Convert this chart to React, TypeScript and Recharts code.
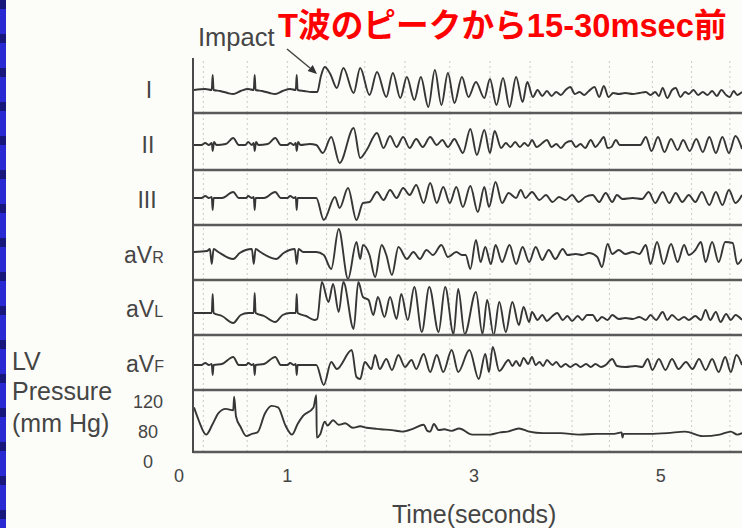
import { LineChart, Line, XAxis, YAxis, ReferenceLine } from "recharts";

type Pt = [number, number];

const T_MAX = 5.87;
const timeTicks = [0, 1, 3, 5];
const pressureTicks = [120, 80];
const gridTimes = [0.1, 0.57, 1.0, 1.42, 1.83, 2.26, 2.74, 3.17, 3.6, 4.05, 4.45, 4.91, 5.33, 5.74];

// [time (s), deflection]
const leadI: Pt[] = [
  [0, 0], [0.12, 1], [0.19, 0], [0.2, 15], [0.21, 0], [0.28, -1], [0.36, -3], [0.42, -4], [0.5, -1],
  [0.58, 1], [0.64, 0], [0.65, 15], [0.66, 0], [0.73, -1], [0.81, -3], [0.87, -4], [0.95, -1],
  [1.03, 1], [1.09, 0], [1.1, 15], [1.11, 0], [1.18, -1], [1.26, -2], [1.32, -2], [1.36, 14],
  [1.4, 23], [1.46, 16], [1.53, 2], [1.6, 22], [1.71, -3], [1.78, 22], [1.88, -5], [1.96, 18],
  [2.06, -7], [2.13, 17], [2.21, -8], [2.28, 13], [2.36, -10], [2.43, 13], [2.51, -17], [2.58, 20],
  [2.65, -15], [2.72, 17], [2.79, -13], [2.87, 13], [2.94, -7], [3.02, 8], [3.11, -8], [3.17, 11],
  [3.24, -15], [3.31, 12], [3.38, -17], [3.45, 13], [3.52, -12], [3.57, 8], [3.63, -7], [3.68, 0],
  [3.73, -6], [3.78, -1], [3.83, -6], [3.88, -2], [3.93, -5], [3.98, 0], [4.03, 3], [4.08, -4],
  [4.13, -2], [4.18, -5], [4.23, -1], [4.29, 3], [4.34, -7], [4.39, 4], [4.44, -7], [4.49, -3],
  [4.55, -4], [4.62, -3], [4.7, -4], [4.77, -3], [4.84, -2], [4.89, -5], [4.94, -2], [4.98, -6],
  [5.02, 2], [5.07, -8], [5.12, 0], [5.16, 2], [5.21, -7], [5.26, -2], [5.3, -4], [5.35, 0],
  [5.4, -5], [5.45, -2], [5.5, -5], [5.55, -1], [5.6, -6], [5.65, 0], [5.7, -5], [5.74, -7],
  [5.78, -1], [5.82, -5], [5.87, -2],
];

const leadII: Pt[] = [
  [0, 0], [0.08, 0], [0.12, 2], [0.16, 0], [0.19, 2], [0.2, -6], [0.215, 3], [0.24, 0], [0.34, 1],
  [0.42, 7], [0.48, 0], [0.55, 0], [0.58, 3], [0.62, 0], [0.64, 2], [0.65, -6], [0.665, 3], [0.69, 0],
  [0.79, 1], [0.87, 7], [0.93, 0], [1.0, 0], [1.03, 2], [1.07, 0], [1.09, 2], [1.1, -6], [1.115, 3],
  [1.14, 0], [1.24, 1], [1.31, 0], [1.38, -8], [1.47, 8], [1.56, -18], [1.71, 17], [1.78, -13],
  [1.85, -5], [1.96, 12], [2.03, -3], [2.1, 9], [2.17, -2], [2.24, 8], [2.31, -3], [2.38, 6],
  [2.45, -2], [2.53, 8], [2.6, 0], [2.66, 5], [2.72, -2], [2.79, 6], [2.83, 0], [2.88, -8],
  [2.96, 16], [3.03, -10], [3.11, 15], [3.17, -8], [3.22, 14], [3.29, -3], [3.34, 2], [3.39, -2],
  [3.44, 3], [3.49, -2], [3.54, 2], [3.58, -1], [3.62, 5], [3.67, -2], [3.72, 1], [3.78, 5],
  [3.83, -2], [3.88, 1], [3.93, -3], [3.98, 2], [4.04, 4], [4.09, -2], [4.14, 1], [4.19, -3],
  [4.25, 5], [4.3, -2], [4.34, 2], [4.39, 8], [4.43, -3], [4.47, -2], [4.52, 5], [4.56, 0],
  [4.65, 0], [4.78, 0], [4.84, 8], [4.9, -6], [4.97, 8], [5.04, -7], [5.11, 6], [5.18, -5],
  [5.24, 5], [5.31, -6], [5.38, 6], [5.45, -7], [5.52, 8], [5.59, -8], [5.66, 8], [5.73, -8],
  [5.8, 9], [5.87, -4],
];

const leadIII: Pt[] = [
  [0, 0], [0.08, 0], [0.12, 2], [0.16, 0], [0.19, 1], [0.2, -12], [0.21, 0], [0.3, 0], [0.42, 6],
  [0.48, 0], [0.56, 0], [0.58, 2], [0.62, 0], [0.64, 1], [0.65, -12], [0.66, 0], [0.75, 0],
  [0.87, 6], [0.93, 0], [1.0, 0], [1.03, 2], [1.07, 0], [1.09, 1], [1.1, -12], [1.11, 0], [1.2, 0],
  [1.31, 0], [1.39, -22], [1.51, 1], [1.56, -10], [1.65, 10], [1.74, -22], [1.81, -5], [1.88, -4],
  [1.96, 6], [2.03, -2], [2.1, 8], [2.17, 0], [2.24, 10], [2.31, 3], [2.38, 13], [2.46, -5],
  [2.53, 15], [2.6, -5], [2.67, 11], [2.74, -5], [2.81, 11], [2.88, -9], [2.96, 12], [3.04, -14],
  [3.11, 11], [3.16, -9], [3.23, 16], [3.3, -5], [3.37, 5], [3.45, 0], [3.5, 8], [3.55, 0],
  [3.62, 6], [3.7, -2], [3.77, 3], [3.84, -4], [3.91, 1], [3.98, -2], [4.05, 3], [4.12, -4],
  [4.19, 1], [4.27, 3], [4.34, -4], [4.41, 5], [4.48, -4], [4.53, 3], [4.59, -1], [4.7, 0],
  [4.8, -1], [4.87, 6], [4.94, -5], [5.02, 6], [5.09, -5], [5.16, 5], [5.23, -4], [5.3, 3],
  [5.37, -4], [5.44, 6], [5.52, -7], [5.59, 6], [5.66, -7], [5.73, 8], [5.8, -5], [5.87, 3],
];

const leadAVR: Pt[] = [
  [0, 0], [0.14, 1], [0.17, 3], [0.19, -12], [0.21, 3], [0.26, 0], [0.42, -7], [0.49, -1],
  [0.62, 3], [0.64, -12], [0.66, 3], [0.71, 0], [0.88, -7], [0.96, -1], [1.08, 3], [1.1, -12],
  [1.12, 3], [1.17, 0], [1.31, 0], [1.39, -3], [1.47, -17], [1.55, 23], [1.65, -27], [1.74, 10],
  [1.78, -7], [1.81, 7], [1.88, -3], [1.94, -25], [2.01, 7], [2.06, -3], [2.12, -23], [2.19, 5],
  [2.28, -7], [2.35, 0], [2.42, -7], [2.49, 2], [2.56, -3], [2.65, 7], [2.72, -5], [2.81, 0],
  [2.87, -3], [2.91, -3], [2.96, -17], [3.02, 12], [3.07, -10], [3.12, 5], [3.18, -12], [3.23, 7],
  [3.3, -10], [3.38, 7], [3.45, -12], [3.52, 5], [3.59, -10], [3.66, 5], [3.73, -8], [3.8, 2],
  [3.87, -7], [3.95, 3], [4.0, -3], [4.09, -2], [4.16, -3], [4.23, -1], [4.32, -5], [4.37, -15],
  [4.43, 8], [4.48, -2], [4.55, 2], [4.62, -2], [4.7, 0], [4.77, -2], [4.84, 7], [4.89, -12],
  [4.96, 10], [5.03, -12], [5.11, 8], [5.18, -10], [5.25, 7], [5.3, -3], [5.37, 2], [5.43, 10],
  [5.48, -10], [5.55, 10], [5.62, -10], [5.69, 10], [5.77, 9], [5.82, -12], [5.87, -7],
];

const leadAVL: Pt[] = [
  [0, 0], [0.19, 0], [0.2, 19], [0.21, 0], [0.3, -3], [0.42, -10], [0.5, -2], [0.58, 0], [0.64, 0],
  [0.65, 20], [0.66, 0], [0.75, -3], [0.87, -9], [0.95, -2], [1.03, 0], [1.09, 0], [1.1, 19],
  [1.11, 0], [1.2, -3], [1.29, -7], [1.32, -6], [1.37, 31], [1.44, 11], [1.49, 29], [1.55, 1],
  [1.6, 31], [1.71, -16], [1.76, 31], [1.81, 16], [1.87, 13], [1.92, -2], [1.97, 16], [2.04, -4],
  [2.1, 16], [2.17, -6], [2.22, 19], [2.29, -7], [2.36, 26], [2.44, -19], [2.52, 26], [2.62, -19],
  [2.69, 26], [2.78, -21], [2.83, 24], [2.9, -21], [3.02, 21], [3.09, -21], [3.14, 13], [3.21, -22],
  [3.27, 11], [3.34, -19], [3.41, 11], [3.48, -12], [3.53, 6], [3.59, -9], [3.62, 1], [3.68, -7],
  [3.73, -2], [3.78, -8], [3.84, -3], [3.89, 0], [3.95, -7], [4.0, -3], [4.05, -8], [4.11, -3],
  [4.16, -7], [4.21, -2], [4.27, -2], [4.32, -8], [4.37, -4], [4.43, -7], [4.48, -2], [4.55, -6],
  [4.62, -5], [4.7, -6], [4.77, -4], [4.84, -7], [4.89, -2], [4.95, -7], [5.02, 1], [5.07, -7],
  [5.12, -2], [5.19, -7], [5.25, -4], [5.3, -7], [5.37, -3], [5.43, -7], [5.48, 3], [5.53, -7],
  [5.59, 1], [5.64, -9], [5.7, -1], [5.75, -7], [5.8, -2], [5.87, -7],
];

const leadAVF: Pt[] = [
  [0, 0], [0.08, 0], [0.12, 2], [0.16, 0], [0.19, 1], [0.2, -10], [0.21, 0], [0.3, 1], [0.42, 8],
  [0.48, 0], [0.56, 0], [0.58, 2], [0.62, 0], [0.64, 1], [0.65, -10], [0.66, 0], [0.75, 1],
  [0.87, 8], [0.93, 0], [1.0, 0], [1.03, 2], [1.07, 0], [1.09, 1], [1.1, -10], [1.11, 0], [1.2, 0],
  [1.31, 0], [1.39, -20], [1.47, 3], [1.53, -4], [1.69, 15], [1.74, -12], [1.78, -14], [1.83, 3],
  [1.9, -4], [1.94, 10], [1.99, -4], [2.06, 6], [2.12, -5], [2.19, 10], [2.26, -2], [2.33, 5],
  [2.38, -4], [2.46, 11], [2.53, -7], [2.6, 10], [2.67, -7], [2.76, 15], [2.83, -7], [2.95, 15],
  [3.05, -14], [3.12, 11], [3.16, -7], [3.2, 18], [3.27, -6], [3.37, 5], [3.41, -1], [3.45, 4],
  [3.49, -1], [3.53, 7], [3.58, 1], [3.62, 8], [3.66, 0], [3.7, 3], [3.74, -1], [3.78, 5],
  [3.84, 0], [3.88, 3], [3.93, -2], [3.98, 1], [4.03, -2], [4.09, 1], [4.14, -2], [4.2, 1],
  [4.25, -2], [4.3, 1], [4.36, -2], [4.41, 0], [4.48, 6], [4.53, -1], [4.62, -2], [4.73, -1],
  [4.8, -2], [4.86, 6], [4.91, -5], [4.98, 6], [5.05, -5], [5.12, 6], [5.19, -4], [5.27, 3],
  [5.34, -4], [5.41, 6], [5.48, -5], [5.55, 6], [5.62, -7], [5.69, 8], [5.75, -7], [5.81, 10],
  [5.87, 0],
];

// LV pressure, mm Hg
const lvPressure: Pt[] = [
  [0, 112], [0.05, 95], [0.13, 76], [0.2, 90], [0.26, 104], [0.34, 110], [0.42, 108], [0.43, 126],
  [0.45, 100], [0.5, 86], [0.56, 74], [0.62, 77], [0.68, 79], [0.76, 104], [0.83, 114], [0.9, 112],
  [0.98, 88], [1.05, 76], [1.11, 90], [1.17, 101], [1.28, 112], [1.31, 128], [1.315, 72],
  [1.35, 76], [1.4, 93], [1.43, 88], [1.49, 95], [1.55, 89], [1.62, 91], [1.7, 85], [1.78, 87],
  [1.85, 85], [1.93, 84], [2.0, 83], [2.12, 82], [2.23, 80], [2.35, 84], [2.46, 89], [2.5, 81],
  [2.53, 80], [2.57, 90], [2.62, 82], [2.68, 83], [2.76, 81], [2.84, 84], [2.98, 76], [3.17, 76],
  [3.28, 79], [3.36, 80], [3.48, 84], [3.59, 80], [3.74, 78], [3.93, 78], [4.12, 76], [4.31, 77],
  [4.5, 77], [4.58, 79], [4.59, 72], [4.6, 77], [4.69, 77], [4.88, 77], [5.07, 78], [5.26, 80],
  [5.45, 74], [5.63, 76], [5.75, 80], [5.82, 76], [5.87, 78],
];

const rows = [
  { name: "I", pts: leadI, top: 60, bottom: 113, base: 90 },
  { name: "II", pts: leadII, top: 113, bottom: 170, base: 145 },
  { name: "III", pts: leadIII, top: 170, bottom: 225, base: 198 },
  { name: "aVR", pts: leadAVR, top: 225, bottom: 280, base: 252 },
  { name: "aVL", pts: leadAVL, top: 280, bottom: 335, base: 313 },
  { name: "aVF", pts: leadAVF, top: 335, bottom: 390, base: 365 },
];

const FONT = "'Liberation Sans', Arial, sans-serif";
const INK = "#363636";
const TXT = "#454545";

const toData = (pts: Pt[]) => pts.map(([t, v]) => ({ t, v }));

const grid = () =>
  gridTimes.map((g) => (
    <ReferenceLine key={g} x={g} stroke="#c9c9c9" strokeDasharray="2 3" strokeWidth={1} ifOverflow="hidden" />
  ));

const XTick = (props: any) => {
  const { x, payload } = props;
  const dx = payload.value === 0 ? -15 : 0;
  return (
    <text x={x + dx} y={92} textAnchor="middle" fontSize={18} fill={TXT} fontFamily={FONT}>
      {payload.value}
    </text>
  );
};

const PTick = (props: any) => {
  const { y, payload } = props;
  return (
    <text x={148} y={y} dy={6.5} textAnchor="middle" fontSize={18} fill={TXT} fontFamily={FONT}>
      {payload.value}
    </text>
  );
};

const separators = [113, 170, 225, 280, 335, 390, 452];

export default function App() {
  return (
    <div style={{ position: "absolute", left: 0, top: 0, width: 742, height: 528, background: "#fcfcf8", overflow: "hidden" }}>
      <div
        style={{
          position: "absolute", left: 0, top: 0, width: 6, height: 528,
          background: "repeating-linear-gradient(to bottom, #17177c 0px, #17177c 9px, #2a2ad4 9px, #2a2ad4 34px)",
        }}
      />
      {rows.map((r) => (
        <div key={r.name} style={{ position: "absolute", left: 0, top: r.top, width: 742, height: r.bottom - r.top }}>
          <LineChart width={742} height={r.bottom - r.top} data={toData(r.pts)} margin={{ top: 0, right: 0, bottom: 0, left: 194 }}>
            <XAxis type="number" dataKey="t" domain={[0, T_MAX]} hide allowDataOverflow />
            <YAxis type="number" domain={[r.base - r.bottom, r.base - r.top]} hide allowDataOverflow />
            {grid()}
            <Line dataKey="v" type="monotone" stroke={INK} strokeWidth={1.9} strokeLinejoin="round" dot={false} isAnimationActive={false} />
          </LineChart>
        </div>
      ))}
      <div style={{ position: "absolute", left: 0, top: 390, width: 742, height: 102 }}>
        <LineChart width={742} height={102} data={toData(lvPressure)} margin={{ top: 0, right: 0, bottom: 0, left: 0 }}>
          <XAxis type="number" dataKey="t" domain={[0, T_MAX]} ticks={timeTicks} height={40} axisLine={false} tickLine={false} tick={<XTick />} allowDataOverflow />
          <YAxis type="number" domain={[53, 135]} ticks={pressureTicks} width={194} axisLine={false} tickLine={false} tick={<PTick />} allowDataOverflow />
          {grid()}
          <Line dataKey="v" type="monotone" stroke={INK} strokeWidth={1.9} strokeLinejoin="round" dot={false} isAnimationActive={false} />
        </LineChart>
      </div>
      <svg width={742} height={528} style={{ position: "absolute", left: 0, top: 0, pointerEvents: "none" }} fontFamily={FONT}>
        {separators.map((y) => (
          <line key={y} x1={193} x2={742} y1={y} y2={y} stroke="#5a5a5a" strokeWidth={2.5} />
        ))}
        <line x1={193} x2={193} y1={58} y2={453} stroke="#4a4a4a" strokeWidth={2} />
        <text x={278} y={37} fontSize={32.7} fontWeight="bold" fill="#ff0000" fontFamily="'Liberation Sans', 'Noto Sans CJK JP', sans-serif">
          T波のピークから15-30msec前
        </text>
        <text x={198} y={46} fontSize={25.5} fill={TXT}>Impact</text>
        <line x1={287} y1={49} x2={310} y2={68} stroke="#444" strokeWidth={1.5} />
        <polygon points="317,74 307.6,71.1 312.8,65.1" fill="#333" />
        <text x={149} y={98} fontSize={23} fill={TXT} textAnchor="middle">I</text>
        <text x={148} y={153} fontSize={23} fill={TXT} textAnchor="middle">II</text>
        <text x={147} y={208} fontSize={23} fill={TXT} textAnchor="middle">III</text>
        <text x={124} y={263} fontSize={23} fill={TXT}>aV<tspan fontSize={16}>R</tspan></text>
        <text x={126} y={317} fontSize={23} fill={TXT}>aV<tspan fontSize={16}>L</tspan></text>
        <text x={126} y={372} fontSize={23} fill={TXT}>aV<tspan fontSize={16}>F</tspan></text>
        <text x={12} y={370} fontSize={25} fill={TXT}>LV</text>
        <text x={12} y={400} fontSize={25} fill={TXT}>Pressure</text>
        <text x={12} y={432} fontSize={25} fill={TXT}>(mm Hg)</text>
        <text x={148} y={468} fontSize={18} fill={TXT} textAnchor="middle">0</text>
        <text x={392} y={523} fontSize={25} fill={TXT}>Time(seconds)</text>
      </svg>
    </div>
  );
}
